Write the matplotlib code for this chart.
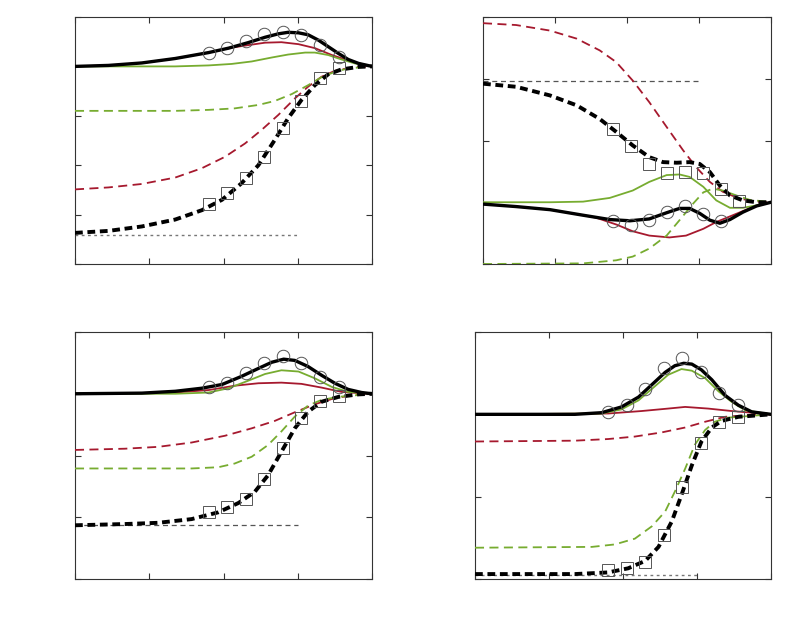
import numpy as np
import matplotlib.pyplot as plt

RED = '#a6192e'
GREEN = '#77ac30'

# marker x positions (same in every panel)
x_mk = [1.8, 2.05, 2.3, 2.55, 2.8, 3.05, 3.3, 3.55]

# ---------------- panel 1 (top left) ----------------
p1_blk_x = [0, 0.45, 0.90, 1.35, 1.80, 2.07, 2.33, 2.56, 2.74, 2.87, 3.01, 3.14, 3.28, 3.41, 3.55, 3.68, 3.82, 4.0]
p1_blk_y = [4.0, 4.02, 4.07, 4.16, 4.28, 4.37, 4.48, 4.59, 4.66, 4.69, 4.68, 4.64, 4.53, 4.40, 4.26, 4.14, 4.06, 4.0]
p1_red_x = [0, 0.45, 0.90, 1.35, 1.80, 2.11, 2.33, 2.56, 2.78, 3.01, 3.23, 3.46, 3.68, 3.86, 4.0]
p1_red_y = [4.0, 4.02, 4.07, 4.16, 4.28, 4.38, 4.43, 4.48, 4.49, 4.45, 4.37, 4.23, 4.12, 4.05, 4.0]
p1_grn_x = [0, 1.35, 1.80, 2.11, 2.38, 2.65, 2.87, 3.10, 3.23, 3.41, 3.59, 3.77, 4.0]
p1_grn_y = [4.0, 4.0, 4.02, 4.05, 4.10, 4.18, 4.24, 4.28, 4.28, 4.23, 4.14, 4.06, 4.0]
p1_gd_x = [0, 1.35, 1.80, 2.15, 2.47, 2.69, 2.92, 3.14, 3.32, 3.50, 3.68, 4.0]
p1_gd_y = [3.10, 3.10, 3.12, 3.15, 3.22, 3.30, 3.44, 3.62, 3.78, 3.89, 3.96, 4.0]
p1_rd_x = [0, 0.45, 0.90, 1.35, 1.71, 2.02, 2.29, 2.51, 2.74, 2.96, 3.14, 3.32, 3.50, 3.73, 4.0]
p1_rd_y = [1.51, 1.55, 1.62, 1.75, 1.94, 2.17, 2.44, 2.71, 3.02, 3.35, 3.59, 3.79, 3.91, 3.98, 4.0]
p1_bd_x = [0, 0.45, 0.90, 1.35, 1.71, 1.98, 2.24, 2.47, 2.69, 2.87, 3.05, 3.23, 3.41, 3.59, 3.82, 4.0]
p1_bd_y = [0.63, 0.67, 0.76, 0.90, 1.09, 1.30, 1.63, 2.00, 2.51, 2.95, 3.32, 3.62, 3.84, 3.94, 3.99, 4.0]
p1_ref = 0.59
p1_circ = [4.27, 4.37, 4.51, 4.66, 4.70, 4.64, 4.43, 4.19]
p1_sq = [1.21, 1.44, 1.74, 2.17, 2.75, 3.30, 3.76, 3.97]

# ---------------- panel 2 (top right) ----------------
p2_rd_x = [0, 0.46, 0.93, 1.30, 1.62, 1.85, 2.08, 2.31, 2.55, 2.78, 2.96, 3.15, 3.33, 3.56, 3.80, 4.0]
p2_rd_y = [3.90, 3.87, 3.78, 3.65, 3.46, 3.27, 2.97, 2.62, 2.22, 1.84, 1.57, 1.33, 1.17, 1.06, 1.01, 1.0]
p2_bd_x = [0, 0.46, 0.93, 1.30, 1.62, 1.85, 2.08, 2.31, 2.50, 2.69, 2.87, 3.01, 3.15, 3.29, 3.43, 3.61, 3.80, 4.0]
p2_bd_y = [2.92, 2.87, 2.73, 2.57, 2.35, 2.14, 1.92, 1.73, 1.65, 1.64, 1.65, 1.62, 1.49, 1.27, 1.11, 1.03, 1.0, 1.0]
p2_grn_x = [0, 0.93, 1.39, 1.76, 2.08, 2.31, 2.55, 2.73, 2.87, 3.06, 3.24, 3.43, 3.61, 3.80, 4.0]
p2_grn_y = [1.0, 1.0, 1.01, 1.07, 1.19, 1.33, 1.44, 1.45, 1.41, 1.25, 1.03, 0.91, 0.91, 0.95, 1.0]
p2_blk_x = [0, 0.46, 0.93, 1.39, 1.76, 2.04, 2.31, 2.55, 2.73, 2.87, 3.01, 3.15, 3.29, 3.43, 3.61, 3.80, 4.0]
p2_blk_y = [0.97, 0.93, 0.88, 0.79, 0.72, 0.70, 0.73, 0.83, 0.90, 0.90, 0.82, 0.71, 0.66, 0.72, 0.84, 0.94, 1.0]
p2_red_x = [0, 0.46, 0.93, 1.39, 1.57, 1.85, 2.08, 2.31, 2.59, 2.82, 3.06, 3.24, 3.47, 3.70, 3.89, 4.0]
p2_red_y = [0.97, 0.93, 0.88, 0.79, 0.75, 0.64, 0.53, 0.46, 0.43, 0.46, 0.57, 0.68, 0.79, 0.90, 0.97, 1.0]
p2_gd_x = [0, 1.39, 1.85, 2.08, 2.31, 2.55, 2.73, 2.92, 3.06, 3.19, 3.33, 3.52, 3.70, 4.0]
p2_gd_y = [0.0, 0.01, 0.06, 0.12, 0.25, 0.46, 0.71, 0.98, 1.16, 1.22, 1.19, 1.11, 1.04, 1.0]
p2_ref = 2.96
p2_circ = [0.69, 0.63, 0.71, 0.85, 0.94, 0.81, 0.70]
p2_sq = [2.19, 1.91, 1.62, 1.47, 1.49, 1.47, 1.21, 1.02]

# ---------------- panel 3 (bottom left) ----------------
p3_blk_x = [0, 0.90, 1.35, 1.71, 1.98, 2.24, 2.47, 2.65, 2.81, 2.96, 3.14, 3.32, 3.50, 3.68, 3.86, 4.0]
p3_blk_y = [3.0, 3.01, 3.04, 3.09, 3.15, 3.28, 3.41, 3.51, 3.56, 3.54, 3.44, 3.30, 3.17, 3.07, 3.02, 3.0]
p3_grn_x = [0, 1.35, 1.80, 2.07, 2.33, 2.56, 2.78, 3.01, 3.23, 3.46, 3.68, 4.0]
p3_grn_y = [3.0, 3.0, 3.02, 3.09, 3.21, 3.32, 3.38, 3.36, 3.25, 3.11, 3.03, 3.0]
p3_red_x = [0, 1.35, 1.80, 2.15, 2.47, 2.78, 3.05, 3.32, 3.59, 3.82, 4.0]
p3_red_y = [3.0, 3.02, 3.06, 3.13, 3.17, 3.18, 3.16, 3.10, 3.03, 3.01, 3.0]
p3_rd_x = [0, 0.67, 1.12, 1.57, 2.02, 2.38, 2.69, 2.96, 3.23, 3.50, 3.77, 4.0]
p3_rd_y = [2.09, 2.11, 2.14, 2.21, 2.32, 2.44, 2.56, 2.70, 2.83, 2.93, 2.98, 3.0]
p3_gd_x = [0, 1.57, 1.93, 2.15, 2.38, 2.60, 2.78, 2.96, 3.14, 3.32, 3.55, 3.82, 4.0]
p3_gd_y = [1.79, 1.79, 1.81, 1.87, 1.98, 2.17, 2.39, 2.63, 2.81, 2.90, 2.95, 2.98, 3.0]
p3_bd_x = [0, 0.67, 1.12, 1.57, 1.93, 2.20, 2.42, 2.60, 2.78, 2.96, 3.14, 3.32, 3.55, 3.82, 4.0]
p3_bd_y = [0.87, 0.89, 0.91, 0.97, 1.08, 1.23, 1.41, 1.68, 2.06, 2.44, 2.71, 2.87, 2.95, 2.99, 3.0]
p3_ref = 0.87
p3_circ = [3.11, 3.17, 3.34, 3.50, 3.61, 3.50, 3.27, 3.11]
p3_sq = [1.09, 1.17, 1.30, 1.62, 2.12, 2.61, 2.88, 2.96]

# ---------------- panel 4 (bottom right) ----------------
p4_blk_x = [0, 1.35, 1.71, 1.98, 2.21, 2.39, 2.57, 2.70, 2.82, 2.93, 3.06, 3.20, 3.38, 3.56, 3.74, 4.0]
p4_blk_y = [2.0, 2.0, 2.02, 2.09, 2.21, 2.36, 2.51, 2.59, 2.62, 2.61, 2.54, 2.42, 2.23, 2.11, 2.03, 2.0]
p4_grn_x = [0, 1.71, 1.98, 2.21, 2.43, 2.61, 2.79, 2.93, 3.11, 3.29, 3.47, 3.65, 4.0]
p4_grn_y = [2.0, 2.01, 2.06, 2.17, 2.34, 2.48, 2.55, 2.53, 2.44, 2.28, 2.15, 2.05, 2.0]
p4_red_x = [0, 1.80, 2.25, 2.61, 2.84, 3.15, 3.47, 3.74, 4.0]
p4_red_y = [2.0, 2.01, 2.04, 2.07, 2.09, 2.07, 2.04, 2.02, 2.0]
p4_rd_x = [0, 1.35, 1.80, 2.16, 2.52, 2.84, 3.11, 3.38, 3.69, 4.0]
p4_rd_y = [1.67, 1.68, 1.70, 1.73, 1.78, 1.84, 1.91, 1.97, 1.99, 2.0]
p4_gd_x = [0, 1.58, 1.89, 2.16, 2.39, 2.57, 2.70, 2.84, 2.97, 3.11, 3.24, 3.42, 4.0]
p4_gd_y = [0.38, 0.39, 0.42, 0.49, 0.64, 0.82, 1.06, 1.34, 1.63, 1.81, 1.91, 1.96, 2.0]
p4_bd_x = [0, 1.35, 1.80, 2.07, 2.30, 2.48, 2.66, 2.79, 2.93, 3.06, 3.20, 3.33, 3.56, 4.0]
p4_bd_y = [0.06, 0.06, 0.08, 0.13, 0.22, 0.39, 0.70, 1.02, 1.38, 1.67, 1.84, 1.92, 1.97, 2.0]
p4_ref = 0.05
p4_circ = [2.03, 2.11, 2.31, 2.56, 2.68, 2.51, 2.26, 2.11]
p4_sq = [0.11, 0.13, 0.21, 0.53, 1.12, 1.65, 1.91, 1.97]


def draw(ax, blk, red, grn, rd, gd, bd, ref, ref_style, circ, sq, ymax):
    ax.plot(*red, color=RED, lw=1.3, zorder=3)
    ax.plot(*grn, color=GREEN, lw=1.3, zorder=3)
    ax.plot(*rd, color=RED, lw=1.3, ls=(0, (5, 3)), zorder=3)
    ax.plot(*gd, color=GREEN, lw=1.3, ls=(0, (5, 3)), zorder=3)
    ax.plot([0, 3], [ref, ref], **ref_style, zorder=2)
    ax.plot(*bd, color='black', lw=2.8, ls=(0, (2, 1.2)), zorder=4)
    ax.plot(*blk, color='black', lw=2.4, zorder=4)
    ax.plot(x_mk[:len(circ)], circ, 'o', ms=9, mfc='none', mec='#555555', mew=0.7, zorder=5)
    ax.plot(x_mk[:len(sq)], sq, 's', ms=8.5, mfc='none', mec='#555555', mew=0.7, zorder=5)
    ax.set_xlim(0, 4)
    ax.set_ylim(0, ymax)
    ax.set_xticks(np.arange(0, 5))
    ax.set_yticks(np.arange(0, ymax + 1))
    ax.tick_params(direction='in', length=4, top=True, right=True,
                   labelbottom=False, labelleft=False, color='#333333')
    for s in ax.spines.values():
        s.set_color('#333333')
        s.set_linewidth(0.8)


fig = plt.figure(figsize=(8, 6.29), dpi=100)
W, H = 800, 629
def add(x0, y0, x1, y1):
    return fig.add_axes([x0 / W, 1 - y1 / H, (x1 - x0) / W, (y1 - y0) / H])

dotted = dict(color='#777777', lw=1.0, ls=(0, (2, 2.5)))
dashed = dict(color='#555555', lw=0.9, ls=(0, (4, 3)))

ax1 = add(75, 17, 372, 264)
draw(ax1, (p1_blk_x, p1_blk_y), (p1_red_x, p1_red_y), (p1_grn_x, p1_grn_y),
     (p1_rd_x, p1_rd_y), (p1_gd_x, p1_gd_y), (p1_bd_x, p1_bd_y),
     p1_ref, dotted, p1_circ, p1_sq, 5)

ax2 = add(483, 17, 771, 264)
draw(ax2, (p2_blk_x, p2_blk_y), (p2_red_x, p2_red_y), (p2_grn_x, p2_grn_y),
     (p2_rd_x, p2_rd_y), (p2_gd_x, p2_gd_y), (p2_bd_x, p2_bd_y),
     p2_ref, dashed, p2_circ, p2_sq, 4)

ax3 = add(75, 332, 372, 579)
draw(ax3, (p3_blk_x, p3_blk_y), (p3_red_x, p3_red_y), (p3_grn_x, p3_grn_y),
     (p3_rd_x, p3_rd_y), (p3_gd_x, p3_gd_y), (p3_bd_x, p3_bd_y),
     p3_ref, dashed, p3_circ, p3_sq, 4)

ax4 = add(475, 332, 771, 579)
draw(ax4, (p4_blk_x, p4_blk_y), (p4_red_x, p4_red_y), (p4_grn_x, p4_grn_y),
     (p4_rd_x, p4_rd_y), (p4_gd_x, p4_gd_y), (p4_bd_x, p4_bd_y),
     p4_ref, dotted, p4_circ, p4_sq, 3)

fig.savefig('out.png', dpi=100)
